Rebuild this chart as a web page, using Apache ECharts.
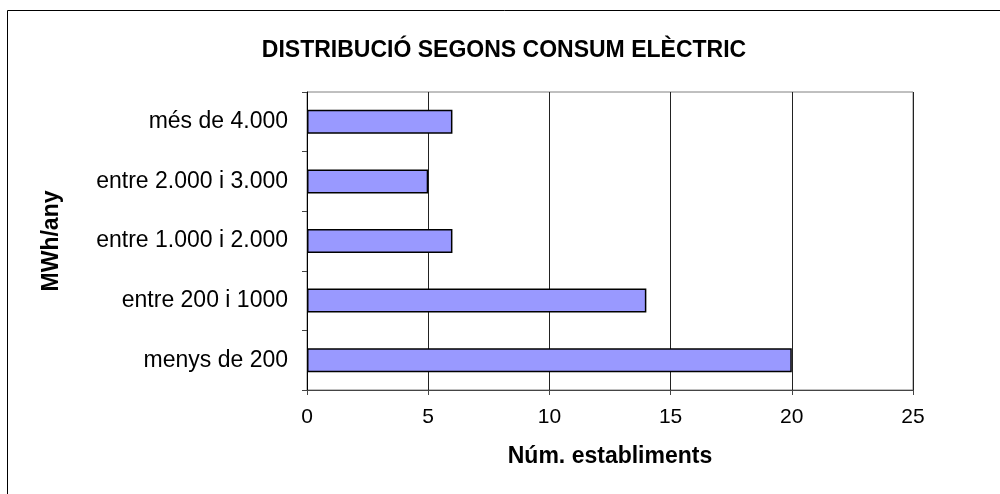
<!DOCTYPE html>
<html>
<head>
<meta charset="utf-8">
<script src="https://cdn.jsdelivr.net/npm/echarts@6/dist/echarts.min.js"></script>
<style>
  html, body { margin: 0; padding: 0; background: #fff; }
  #main { width: 1000px; height: 494px; }
</style>
</head>
<body>
<div id="main"></div>
<script>
// categories from bottom to top (category axis starts at the bottom)
var categories = ['menys de 200', 'entre 200 i 1000', 'entre 1.000 i 2.000', 'entre 2.000 i 3.000', 'més de 4.000'];
var establiments = [20, 14, 6, 5, 6];
var xTicks = [0, 5, 10, 15, 20, 25];

var myChart = echarts.init(document.getElementById('main'));

var option = {
    backgroundColor: '#fff',
    animation: false,
    textStyle: { fontFamily: 'Liberation Sans, Arial, sans-serif' },
    title: {
        text: 'DISTRIBUCIÓ SEGONS CONSUM ELÈCTRIC',
        left: 499,
        textAlign: 'center',
        top: 34,
        textStyle: { fontSize: 23, fontWeight: 'bold', color: '#000', fontFamily: 'Liberation Sans, Arial, sans-serif' }
    },
    graphic: [{
        type: 'rect',
        shape: { x: 7.5, y: 10.5, width: 1000, height: 500 },
        style: { fill: 'none', stroke: '#000', lineWidth: 1 },
        silent: true
    }],
    grid: {
        left: 307, top: 92, right: 87, bottom: 104,
        show: true, borderColor: '#808080', borderWidth: 1
    },
    xAxis: {
        type: 'value',
        min: xTicks[0],
        max: xTicks[xTicks.length - 1],
        interval: 5,
        name: 'Núm. establiments',
        nameLocation: 'middle',
        nameGap: 55,
        nameTextStyle: { fontSize: 23, fontWeight: 'bold', color: '#000' },
        axisLine: { show: true, lineStyle: { color: '#444', width: 1 } },
        axisTick: { show: true, length: 5, lineStyle: { color: '#444' } },
        axisLabel: { fontSize: 21, color: '#000', margin: 17 },
        splitLine: { show: true, lineStyle: { color: '#222', width: 1 } }
    },
    yAxis: {
        type: 'category',
        data: categories,
        name: 'MWh/any',
        nameLocation: 'middle',
        nameRotate: 90,
        nameGap: 244,
        nameTextStyle: { fontSize: 23, fontWeight: 'bold', color: '#000' },
        axisLine: { show: true, lineStyle: { color: '#000', width: 1 } },
        axisTick: { show: true, length: 5, lineStyle: { color: '#444' } },
        axisLabel: { fontSize: 23, color: '#000', margin: 19 },
        splitLine: { show: false }
    },
    series: [{
        type: 'bar',
        data: establiments,
        barWidth: 24,
        itemStyle: { color: '#9999ff', borderColor: '#000', borderWidth: 1.5 }
    }]
};

myChart.setOption(option);
</script>
</body>
</html>
